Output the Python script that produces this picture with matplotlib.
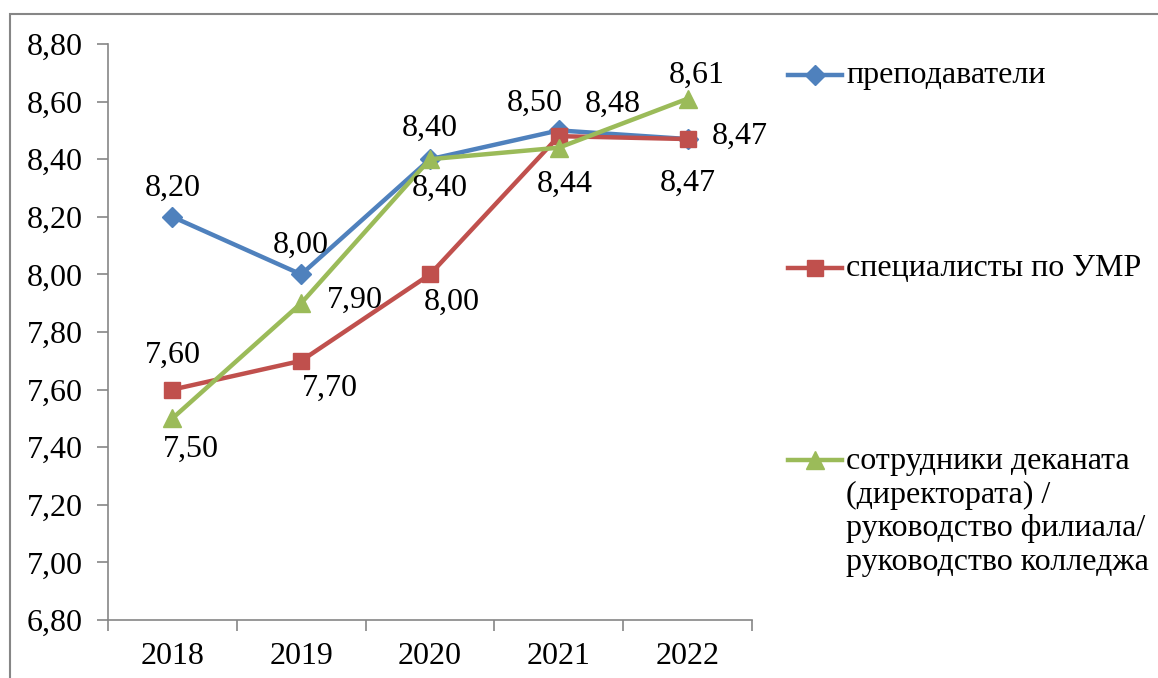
import matplotlib
matplotlib.use('Agg')
import matplotlib.pyplot as plt
from matplotlib.lines import Line2D
from matplotlib.patches import Rectangle
from matplotlib.ticker import FuncFormatter, FixedLocator

years = ['2018', '2019', '2020', '2021', '2022']
teachers = [8.20, 8.00, 8.40, 8.50, 8.47]
umr = [7.60, 7.70, 8.00, 8.48, 8.47]
deans = [7.50, 7.90, 8.40, 8.44, 8.61]

series_names = ['преподаватели', 'специалисты по УМР',
                'сотрудники деканата\n(директората) /\nруководство филиала/\nруководство колледжа']
colors = ['#4F81BD', '#C0504D', '#9BBB59']
markers = ['D', 's', '^']
msizes = [10, 12, 13]

# label offsets in pixels (dx, dy) for each point
offsets = [
    [(0, 28), (0, 29), (0, 31), (-24, 27), (52, 3)],
    [(0, 34), (29, -28), (22, -28), (54, 32), (0, -44)],
    [(18, -31), (54, 3), (10, -29), (6, -37), (9, 23)],
]

plt.rcParams['font.family'] = ['Liberation Serif', 'DejaVu Serif']
FS = 23

fig = plt.figure(figsize=(11.58, 6.78), dpi=100)
W, H = 1158, 678
ax = fig.add_axes([108 / W, 1 - 620 / H, (752 - 108) / W, (620 - 44) / H])

# outer chart border
fig.add_artist(Rectangle((10 / W, -0.2), 1.2, 1 - 14 / H + 0.2,
                         transform=fig.transFigure, fill=False,
                         edgecolor='#868686', linewidth=1.5, clip_on=False))

x = range(len(years))
data = [teachers, umr, deans]
for vals, c, m, ms, offs in zip(data, colors, markers, msizes, offsets):
    ax.plot(x, vals, color=c, linewidth=3.2, marker=m, markersize=ms,
            markerfacecolor=c, markeredgecolor=c, clip_on=False)
    for xi, v, (dx, dy) in zip(x, vals, offs):
        ax.annotate(f'{v:.2f}'.replace('.', ','), (xi, v), xytext=(dx, dy),
                    textcoords='offset pixels', ha='center', va='center',
                    fontsize=FS, color='black')

ax.set_xlim(-0.5, len(years) - 0.5)
ax.set_ylim(6.8, 8.8)
ax.yaxis.set_major_locator(FixedLocator([6.8 + 0.2 * i for i in range(11)]))
ax.yaxis.set_major_formatter(FuncFormatter(lambda v, p: f'{v:.2f}'.replace('.', ',')))
ax.set_xticks([i - 0.5 for i in range(len(years) + 1)])
ax.set_xticklabels([])
ax.set_xticks(list(x), minor=True)
ax.set_xticklabels(years, minor=True)
ax.tick_params(axis='x', which='minor', length=0, pad=16, labelsize=FS)
ax.tick_params(axis='x', which='major', length=8, color='#868686', width=1.2)
ax.tick_params(axis='y', length=8, color='#868686', width=1.2, labelsize=FS, pad=10)

for s in ['top', 'right']:
    ax.spines[s].set_visible(False)
for s in ['left', 'bottom']:
    ax.spines[s].set_color('#868686')
    ax.spines[s].set_linewidth(1.2)

# legend drawn manually
leg_y = [75, 268, 460]
text_y = [75, 268, 512]
for name, c, m, ms, ly, ty in zip(series_names, colors, markers, msizes, leg_y, text_y):
    fy = 1 - ly / H
    fig.add_artist(Line2D([788 / W, 842 / W], [fy, fy], transform=fig.transFigure,
                          color=c, linewidth=3.2))
    fig.add_artist(Line2D([815 / W], [fy], transform=fig.transFigure, color=c,
                          marker=m, markersize=ms, markerfacecolor=c, markeredgecolor=c))
    fig.text(846 / W, 1 - ty / H, name, ha='left', va='center',
             fontsize=FS, linespacing=1.2)

fig.savefig('out.png', dpi=100)
